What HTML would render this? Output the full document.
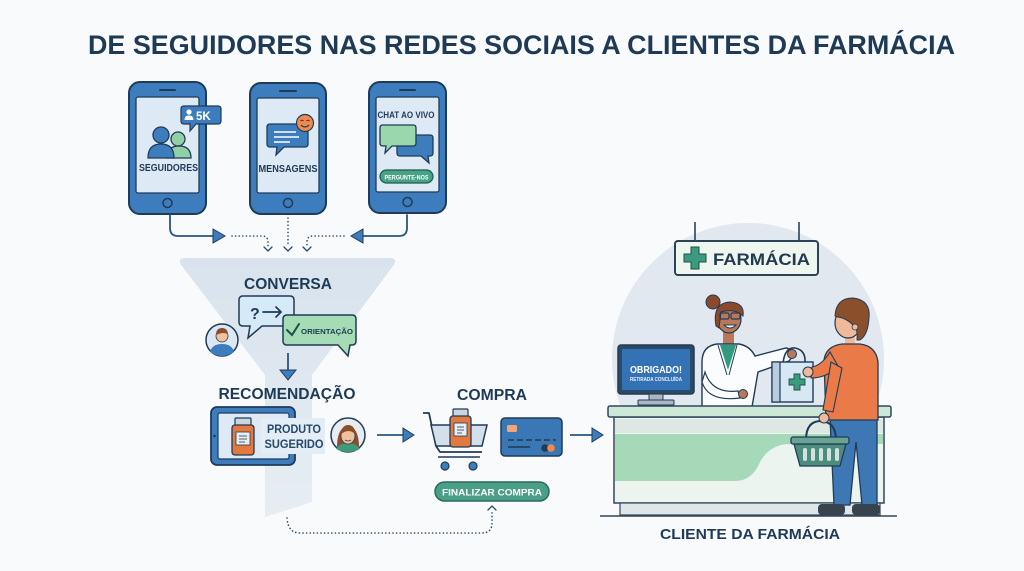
<!DOCTYPE html>
<html><head><meta charset="utf-8">
<style>
html,body{margin:0;padding:0;background:#f8fafb;}
svg{display:block}
text{font-family:"Liberation Sans",sans-serif;font-weight:bold;}
</style></head>
<body>
<svg width="1024" height="571" viewBox="0 0 1024 571" xmlns="http://www.w3.org/2000/svg">
<defs>
<linearGradient id="fg" x1="0" y1="0" x2="0" y2="1">
<stop offset="0" stop-color="#d8e3ed"/><stop offset="1" stop-color="#e7edf2"/>
</linearGradient>
</defs>
<rect width="1024" height="571" fill="#f8fafb"/>

<!-- Title -->
<text x="88" y="54" font-size="27" fill="#1e3a56" textLength="867" lengthAdjust="spacingAndGlyphs">DE SEGUIDORES NAS REDES SOCIAIS A CLIENTES DA FARMÁCIA</text>

<!-- Phone 1 -->
<g transform="translate(129,82)">
<rect x="0" y="0" width="77" height="132" rx="11" fill="#3d7dbd" stroke="#1f3b57" stroke-width="2"/>
<rect x="7" y="15" width="63" height="96" rx="2" fill="#dde9f4" stroke="#1f3b57" stroke-width="1.3"/>
<line x1="31" y1="8" x2="46" y2="8" stroke="#1f3b57" stroke-width="2" stroke-linecap="round"/>
<circle cx="38.5" cy="121" r="4.5" fill="none" stroke="#1f3b57" stroke-width="1.5"/>
</g>
<path d="M167,158 Q167,146 179,146 Q191,146 191,158 Z" fill="#8fd0a4" stroke="#1f3b57" stroke-width="1.3"/>
<circle cx="178" cy="139" r="7" fill="#8fd0a4" stroke="#1f3b57" stroke-width="1.3"/>
<path d="M148,158 Q148,144 161,144 Q174,144 174,158 Z" fill="#3d7dbd" stroke="#1f3b57" stroke-width="1.3"/>
<circle cx="161" cy="135" r="8" fill="#3d7dbd" stroke="#1f3b57" stroke-width="1.3"/>
<path d="M184,106 H218 Q221,106 221,109 V121 Q221,124 218,124 H196 L190,131 L190,124 H184 Q181,124 181,121 V109 Q181,106 184,106 Z" fill="#3d7dbd" stroke="#1f3b57" stroke-width="1.2"/>
<circle cx="189" cy="112" r="2.6" fill="#fff"/>
<path d="M184.5,120 Q184.5,115.5 189,115.5 Q193.5,115.5 193.5,120 Z" fill="#fff"/>
<text x="196" y="120" font-size="11.5" fill="#fff">5K</text>
<text x="168.5" y="171" font-size="10" fill="#1e3a56" text-anchor="middle" textLength="59" lengthAdjust="spacingAndGlyphs">SEGUIDORES</text>

<!-- Phone 2 -->
<g transform="translate(250,83)">
<rect x="0" y="0" width="76" height="131" rx="11" fill="#3d7dbd" stroke="#1f3b57" stroke-width="2"/>
<rect x="7" y="15" width="62" height="95" rx="2" fill="#dde9f4" stroke="#1f3b57" stroke-width="1.3"/>
<line x1="30" y1="8" x2="46" y2="8" stroke="#1f3b57" stroke-width="2" stroke-linecap="round"/>
<circle cx="38" cy="120" r="4.5" fill="none" stroke="#1f3b57" stroke-width="1.5"/>
</g>
<path d="M270,124 H305 Q308,124 308,127 V144 Q308,147 305,147 H284 L276,155 L277,147 H270 Q267,147 267,144 V127 Q267,124 270,124 Z" fill="#3d7dbd" stroke="#1f3b57" stroke-width="1.3"/>
<line x1="274" y1="132" x2="296" y2="132" stroke="#fff" stroke-width="1.5"/>
<line x1="274" y1="137" x2="299" y2="137" stroke="#fff" stroke-width="1.5"/>
<line x1="274" y1="142" x2="290" y2="142" stroke="#fff" stroke-width="1.5"/>
<circle cx="305" cy="123" r="8.5" fill="#ef8a4c" stroke="#1f3b57" stroke-width="1.2"/>
<path d="M300.5,121 Q302,119.5 303.5,121 M306.5,121 Q308,119.5 309.5,121" fill="none" stroke="#1f3b57" stroke-width="1"/>
<path d="M301,125 Q305,129 309,125" fill="none" stroke="#1f3b57" stroke-width="1.1"/>
<text x="288" y="172" font-size="10" fill="#1e3a56" text-anchor="middle" textLength="59" lengthAdjust="spacingAndGlyphs">MENSAGENS</text>

<!-- Phone 3 -->
<g transform="translate(369,82)">
<rect x="0" y="0" width="77" height="131" rx="11" fill="#3d7dbd" stroke="#1f3b57" stroke-width="2"/>
<rect x="7" y="15" width="63" height="95" rx="2" fill="#dde9f4" stroke="#1f3b57" stroke-width="1.3"/>
<line x1="31" y1="8" x2="46" y2="8" stroke="#1f3b57" stroke-width="2" stroke-linecap="round"/>
<circle cx="38.5" cy="120" r="4.5" fill="none" stroke="#1f3b57" stroke-width="1.5"/>
</g>
<text x="406" y="118" font-size="9.5" fill="#1e3a56" text-anchor="middle" textLength="57" lengthAdjust="spacingAndGlyphs">CHAT AO VIVO</text>
<path d="M400,135 H430 Q433,135 433,138 V153 Q433,156 430,156 H428 L429,163 L421,156 H400 Q397,156 397,153 V138 Q397,135 400,135 Z" fill="#3d7dbd" stroke="#1f3b57" stroke-width="1.3"/>
<path d="M383,125 H413 Q416,125 416,128 V143 Q416,146 413,146 H392 L385,153 L386,146 H383 Q380,146 380,143 V128 Q380,125 383,125 Z" fill="#9bd7ad" stroke="#1f3b57" stroke-width="1.3"/>
<rect x="380" y="170" width="53" height="13" rx="6.5" fill="#47a386" stroke="#1f5a4d" stroke-width="1.2"/>
<text x="406.5" y="179.5" font-size="6.8" fill="#fff" text-anchor="middle" textLength="44" lengthAdjust="spacingAndGlyphs">PERGUNTE-NOS</text>

<!-- connectors from phones -->
<g fill="none" stroke="#2a5680" stroke-width="1.8" stroke-linecap="round">
<path d="M170,215 V228 Q170,236 178,236 H214"/>
<path d="M407,215 V228 Q407,236 399,236 H362"/>
</g>
<polygon points="213,229 225,236 213,243" fill="#3d7dbd" stroke="#1f3b57" stroke-width="1"/>
<polygon points="363,229 351,236 363,243" fill="#3d7dbd" stroke="#1f3b57" stroke-width="1"/>
<g fill="none" stroke="#2a4a6a" stroke-width="1.6" stroke-linecap="round" stroke-dasharray="0.1 3.5">
<path d="M232,236 H262 Q268,236 268,242 V246"/>
<path d="M288,218 V246"/>
<path d="M344,236 H313 Q307,236 307,242 V246"/>
</g>
<g fill="none" stroke="#2a4a6a" stroke-width="1.3" stroke-linecap="round">
<polyline points="264,247 268,251 272,247"/>
<polyline points="284,247 288,251 292,247"/>
<polyline points="303,247 307,251 311,247"/>
</g>

<!-- Funnel -->
<path d="M186,258 L389,258 Q399,258 393,266 L312,375 L312,502 L265,517 L265,375 L182,266 Q176,258 186,258 Z" fill="url(#fg)"/>

<text x="288" y="289" font-size="15.5" fill="#1e3a56" text-anchor="middle" textLength="88" lengthAdjust="spacingAndGlyphs">CONVERSA</text>

<path d="M243,296 H290 Q294,296 294,300 V322 Q294,326 290,326 H262 L248,338 L250,326 H243 Q239,326 239,322 V300 Q239,296 243,296 Z" fill="#d5e9f6" stroke="#1f3b57" stroke-width="1.5"/>
<text x="250" y="319" font-size="16" fill="#1e3a56">?</text>
<path d="M263,312 H281 M276,307 L281,312 L276,317" fill="none" stroke="#1e3a56" stroke-width="1.7" stroke-linecap="round"/>
<path d="M287,315 H352 Q356,315 356,319 V341 Q356,345 352,345 H350 L348,356 L338,345 H287 Q283,345 283,341 V319 Q283,315 287,315 Z" fill="#a5dbb5" stroke="#1f3b57" stroke-width="1.5"/>
<path d="M287,330 L292,335 L299,324" fill="none" stroke="#1f4f4a" stroke-width="2" stroke-linecap="round"/>
<text x="301" y="334" font-size="7.2" fill="#1e3a56" textLength="52" lengthAdjust="spacingAndGlyphs">ORIENTAÇÃO</text>
<circle cx="222" cy="340" r="16" fill="#dbe8f3" stroke="#1f3b57" stroke-width="1.5"/>
<path d="M210,352 Q212,344 222,344 Q232,344 234,352 Q228,356 222,356 Q216,356 210,352 Z" fill="#3d7dbd"/>
<circle cx="222" cy="336" r="6" fill="#f1c09d" stroke="#1f3b57" stroke-width="0.8"/>
<path d="M216,335 Q216,328 222,328 Q228,328 228,335 Q225,331 216,335 Z" fill="#8a4e2c"/>
<line x1="288" y1="353" x2="288" y2="371" stroke="#2a5680" stroke-width="1.8"/>
<polygon points="280,370 296,370 288,380" fill="#3d7dbd" stroke="#1f3b57" stroke-width="1"/>

<text x="287" y="399" font-size="16" fill="#1e3a56" text-anchor="middle" textLength="137" lengthAdjust="spacingAndGlyphs">RECOMENDAÇÃO</text>

<rect x="211" y="407" width="84" height="58" rx="6" fill="#3d7dbd" stroke="#1f3b57" stroke-width="1.8"/>
<rect x="218" y="413" width="71" height="46" rx="2" fill="#dde9f4" stroke="#1f3b57" stroke-width="1.2"/>
<circle cx="214.5" cy="436" r="1.3" fill="#1f3b57"/>
<rect x="261" y="418" width="64" height="36" fill="#e2edf5"/>
<rect x="235" y="418" width="16" height="8" rx="1" fill="#c9d6df" stroke="#1f3b57" stroke-width="1.2"/>
<rect x="232" y="425" width="22" height="30" rx="3" fill="#e4793f" stroke="#1f3b57" stroke-width="1.3"/>
<rect x="236" y="432" width="14" height="13" fill="#e8eef2" stroke="#1f3b57" stroke-width="0.8"/>
<line x1="239" y1="436" x2="247" y2="436" stroke="#1f3b57" stroke-width="0.8"/>
<line x1="239" y1="439" x2="247" y2="439" stroke="#1f3b57" stroke-width="0.8"/>
<line x1="239" y1="442" x2="245" y2="442" stroke="#1f3b57" stroke-width="0.8"/>
<text x="294" y="433" font-size="12" fill="#28476a" text-anchor="middle" textLength="54" lengthAdjust="spacingAndGlyphs">PRODUTO</text>
<text x="294" y="448" font-size="12" fill="#28476a" text-anchor="middle" textLength="59" lengthAdjust="spacingAndGlyphs">SUGERIDO</text>
<circle cx="348" cy="435" r="17" fill="#e6ecf1" stroke="#1f3b57" stroke-width="1.5"/>
<path d="M337,447 Q337,428 348,425 Q359,428 359,447 Z" fill="#8a4e2c"/>
<path d="M336,449 Q340,443 348,443 Q356,443 360,449 Q354,452 348,452 Q342,452 336,449 Z" fill="#3f9a7c"/>
<ellipse cx="348" cy="436" rx="7" ry="8" fill="#f1c09d" stroke="#1f3b57" stroke-width="0.8"/>
<path d="M341,434 Q342,425 348,425 Q355,425 355,434 Q349,428 341,434 Z" fill="#8a4e2c"/>
<path d="M345,440 Q348,442 351,440" fill="none" stroke="#1f3b57" stroke-width="0.8"/>
<line x1="377" y1="435" x2="404" y2="435" stroke="#2a5680" stroke-width="1.8"/>
<polygon points="403,428 414,435 403,442" fill="#3d7dbd" stroke="#1f3b57" stroke-width="1"/>

<text x="492" y="400" font-size="16" fill="#1e3a56" text-anchor="middle" textLength="70" lengthAdjust="spacingAndGlyphs">COMPRA</text>
<path d="M423,413 H429 L436,446 L440,452 H482" fill="none" stroke="#1f3b57" stroke-width="1.8" stroke-linejoin="round"/>
<path d="M431,425 H487 L482,446 H436 Z" fill="#d3e0ea" stroke="#1f3b57" stroke-width="1.5"/>
<line x1="438" y1="457" x2="480" y2="457" stroke="#1f3b57" stroke-width="1.6"/>
<circle cx="445" cy="466" r="4" fill="#3d7dbd" stroke="#1f3b57" stroke-width="1.2"/>
<circle cx="473" cy="466" r="4" fill="#3d7dbd" stroke="#1f3b57" stroke-width="1.2"/>
<rect x="453" y="409" width="15" height="8" rx="1" fill="#c9d6df" stroke="#1f3b57" stroke-width="1.2"/>
<rect x="450" y="416" width="21" height="31" rx="3" fill="#e4793f" stroke="#1f3b57" stroke-width="1.3"/>
<rect x="454" y="423" width="13" height="13" fill="#e8eef2" stroke="#1f3b57" stroke-width="0.8"/>
<line x1="457" y1="427" x2="464" y2="427" stroke="#1f3b57" stroke-width="0.8"/>
<line x1="457" y1="430" x2="464" y2="430" stroke="#1f3b57" stroke-width="0.8"/>
<line x1="457" y1="433" x2="462" y2="433" stroke="#1f3b57" stroke-width="0.8"/>
<rect x="501" y="418" width="61" height="38" rx="4" fill="#3a78b5" stroke="#1f3b57" stroke-width="1.5"/>
<rect x="507" y="425" width="10" height="7" rx="1.5" fill="#f2a77a"/>
<line x1="508" y1="440" x2="556" y2="440" stroke="#1f3b57" stroke-width="1.4" stroke-dasharray="6 3"/>
<line x1="508" y1="447" x2="530" y2="447" stroke="#1f3b57" stroke-width="1.4"/>
<circle cx="545" cy="448" r="3.8" fill="#1f3b57"/>
<circle cx="551" cy="448" r="3.8" fill="#ef8a4c"/>
<line x1="570" y1="435" x2="593" y2="435" stroke="#2a5680" stroke-width="1.8"/>
<polygon points="592,428 603,435 592,442" fill="#3d7dbd" stroke="#1f3b57" stroke-width="1"/>
<rect x="435" y="482" width="114" height="19" rx="9.5" fill="#4b9f88" stroke="#2a6b5c" stroke-width="1.5"/>
<text x="492" y="495.5" font-size="9.5" fill="#fff" text-anchor="middle" textLength="100" lengthAdjust="spacingAndGlyphs">FINALIZAR COMPRA</text>
<path d="M287,518 Q288,533 300,533 H482 Q492,533 492,523 V512" fill="none" stroke="#2a4a6a" stroke-width="1.6" stroke-linecap="round" stroke-dasharray="0.1 3.5"/>
<polyline points="488,510 492,506 496,510" fill="none" stroke="#2a4a6a" stroke-width="1.3" stroke-linecap="round"/>

<!-- Right scene -->
<circle cx="748" cy="359" r="136" fill="#e2e8ef"/>
<line x1="695" y1="222" x2="695" y2="241" stroke="#2b4455" stroke-width="1.6"/>
<line x1="799" y1="222" x2="799" y2="241" stroke="#2b4455" stroke-width="1.6"/>
<rect x="675" y="241" width="143" height="34" rx="3" fill="#eef6f0" stroke="#2b4455" stroke-width="2"/>
<path d="M691,247 H699 V254 H706 V262 H699 V269 H691 V262 H684 V254 H691 Z" fill="#3d9b7d" stroke="#1f4f4a" stroke-width="1"/>
<text x="713" y="265" font-size="17" fill="#243a50" textLength="97" lengthAdjust="spacingAndGlyphs">FARMÁCIA</text>

<rect x="618" y="345" width="76" height="49" rx="3" fill="#2b4a66" stroke="#1f3b57" stroke-width="1.5"/>
<rect x="622" y="349" width="68" height="41" fill="#3372b5"/>
<text x="656" y="373" font-size="10" fill="#fff" text-anchor="middle" textLength="52" lengthAdjust="spacingAndGlyphs">OBRIGADO!</text>
<text x="656" y="381" font-size="5.2" fill="#e8f0f8" text-anchor="middle" textLength="52" lengthAdjust="spacingAndGlyphs">RETIRADA CONCLUÍDA</text>
<rect x="649" y="394" width="14" height="6" fill="#a9b7c3" stroke="#1f3b57" stroke-width="1"/>
<rect x="638" y="400" width="36" height="5" rx="1" fill="#a9b7c3" stroke="#1f3b57" stroke-width="1"/>

<rect x="723" y="330" width="11" height="16" fill="#b9785a"/>
<path d="M702,407 V362 Q702,346 717,344 H739 Q750,346 755,356 L786,348 Q793,349 792,357 L789,361 L758,372 L752,407 Z" fill="#fbfcfd" stroke="#1f3b57" stroke-width="1.4"/>
<path d="M720,345 L728,370 L736,345 Z" fill="#2f9a7c"/>
<path d="M718,345 L727,375 M737,345 L729,375" fill="none" stroke="#1f3b57" stroke-width="1"/>
<path d="M705,372 Q712,394 738,391 L740,398 Q708,402 702,382 Z" fill="#fbfcfd" stroke="#1f3b57" stroke-width="1.2"/>
<circle cx="743" cy="394" r="4.5" fill="#b9785a" stroke="#1f3b57" stroke-width="1"/>
<circle cx="713" cy="302" r="7" fill="#8b4a2b" stroke="#1f3b57" stroke-width="1"/>
<ellipse cx="729" cy="319" rx="12" ry="14" fill="#b9785a" stroke="#1f3b57" stroke-width="1.2"/>
<path d="M716,326 Q712,303 730,302 Q745,303 743,316 Q735,308 721,312 L719,328 Z" fill="#8b4a2b" stroke="#1f3b57" stroke-width="1"/>
<rect x="720" y="313" width="9" height="6" rx="1.5" fill="none" stroke="#1f3b57" stroke-width="1.2"/>
<rect x="731" y="313" width="9" height="6" rx="1.5" fill="none" stroke="#1f3b57" stroke-width="1.2"/>
<path d="M724,325 Q730,331 736,325 Z" fill="#fff" stroke="#1f3b57" stroke-width="0.9"/>

<path d="M783,363 Q785,347 795,348 Q806,350 805,363" fill="none" stroke="#1f3b57" stroke-width="1.6"/>
<rect x="772" y="362" width="41" height="40" fill="#d7e8f4" stroke="#1f3b57" stroke-width="1.4"/>
<rect x="772" y="362" width="8" height="40" fill="#b8cddd" stroke="#1f3b57" stroke-width="1.2"/>
<path d="M794,374 H800 V379 H805 V385 H800 V390 H794 V385 H789 V379 H794 Z" fill="#3d9b7d" stroke="#1f4f4a" stroke-width="0.9"/>
<circle cx="792" cy="354" r="4.5" fill="#b9785a" stroke="#1f3b57" stroke-width="1"/>

<rect x="614" y="417" width="270" height="86" fill="#ebf4ee" stroke="#30475a" stroke-width="1.5"/>
<rect x="615" y="419" width="268" height="14" fill="#dce8e1"/>
<path d="M615,434 H883 V444 H790 Q770,444 760,462 Q752,481 735,481 H615 Z" fill="#a5d9b8"/>
<rect x="620" y="503" width="260" height="12" fill="#dfe6ea" stroke="#30475a" stroke-width="1.2"/>
<line x1="600" y1="516" x2="897" y2="516" stroke="#30475a" stroke-width="1.5"/>
<rect x="608" y="406" width="283" height="11" rx="2" fill="#cde8d7" stroke="#30475a" stroke-width="1.5"/>

<rect x="845" y="334" width="10" height="14" fill="#f0b99a"/>
<path d="M830,418 H877 V505 H862 L856,442 L850,505 H834 Z" fill="#3d78b5" stroke="#1f3b57" stroke-width="1.3"/>
<path d="M826,420 L824,360 Q826,346 842,344 H860 Q876,346 878,362 L878,420 Z" fill="#ea7a47" stroke="#1f3b57" stroke-width="1.3"/>
<path d="M830,352 Q822,365 812,367 L811,378 Q827,378 838,366 Z" fill="#ea7a47" stroke="#1f3b57" stroke-width="1.1"/>
<circle cx="808" cy="372" r="5" fill="#f0b99a" stroke="#1f3b57" stroke-width="1"/>
<path d="M831,362 L823,410 L833,412 L842,368 Z" fill="#ea7a47" stroke="#1f3b57" stroke-width="1.1"/>
<ellipse cx="848" cy="323" rx="13" ry="15" fill="#f0b99a" stroke="#1f3b57" stroke-width="1.2"/>
<path d="M835,316 Q836,298 853,298 Q871,300 869,318 Q868,335 860,340 L857,340 Q858,328 853,325 Q846,318 838,317 Z" fill="#8c4f2c" stroke="#1f3b57" stroke-width="1"/>
<circle cx="855" cy="327" r="3" fill="#f0b99a" stroke="#1f3b57" stroke-width="0.8"/>
<rect x="818" y="504" width="27" height="11" rx="4" fill="#39434d"/>
<rect x="852" y="504" width="28" height="11" rx="4" fill="#39434d"/>
<path d="M806,440 Q806,421 821,421 Q836,422 836,440" fill="none" stroke="#1f3b57" stroke-width="2"/>
<circle cx="824" cy="418" r="5" fill="#f0b99a" stroke="#1f3b57" stroke-width="1"/>
<path d="M794,444 H846 L840,466 H800 Z" fill="#4f8c80" stroke="#1f3b57" stroke-width="1.3"/>
<rect x="791" y="437" width="58" height="7" rx="2" fill="#6aa393" stroke="#1f3b57" stroke-width="1.3"/>
<g fill="#cfe3dc">
<rect x="803" y="448" width="4" height="13" rx="2"/>
<rect x="811" y="448" width="4" height="13" rx="2"/>
<rect x="819" y="448" width="4" height="13" rx="2"/>
<rect x="827" y="448" width="4" height="13" rx="2"/>
<rect x="835" y="448" width="4" height="13" rx="2"/>
</g>

<text x="750" y="539" font-size="15" fill="#1e3a56" text-anchor="middle" textLength="180" lengthAdjust="spacingAndGlyphs">CLIENTE DA FARMÁCIA</text>
</svg>
</body></html>
